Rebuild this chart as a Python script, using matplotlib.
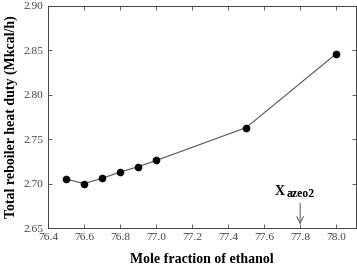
import matplotlib.pyplot as plt

# Datos
fraccion = [76.5, 76.6, 76.7, 76.8, 76.9, 77.0, 77.5, 78.0]
carga = [2.705, 2.700, 2.706, 2.713, 2.719, 2.726, 2.763, 2.846]
x_azeo = 77.8

plt.rcParams['font.family'] = ['Liberation Serif', 'DejaVu Serif']

fig, ax = plt.subplots(figsize=(3.57, 2.67), dpi=100)
fig.subplots_adjust(left=0.135, right=0.997, top=0.978, bottom=0.146)

ax.plot(fraccion, carga, color="#555555", linewidth=0.8,
        marker="o", markersize=4.5, markerfacecolor="black", markeredgecolor="black")

# Flecha y etiqueta del azeótropo
ax.annotate("", xy=(x_azeo, 2.651), xytext=(x_azeo, 2.681),
            arrowprops=dict(arrowstyle="->", color="#555555", lw=0.7,
                            mutation_scale=12))
ax.annotate("X", xy=(x_azeo, 2.684), xytext=(-18, 0), textcoords="offset points",
            ha="left", va="bottom", fontsize=10, fontweight="bold")
ax.annotate("azeo2", xy=(x_azeo, 2.684), xytext=(-9.8, -1.5), textcoords="offset points",
            ha="left", va="bottom", fontsize=8.5, fontweight="bold")

ax.set_xlim(76.4, 78.11)
ax.set_ylim(2.65, 2.90)
ax.set_xticks([76.4, 76.6, 76.8, 77.0, 77.2, 77.4, 77.6, 77.8, 78.0])
ax.set_yticks([2.65, 2.70, 2.75, 2.80, 2.85, 2.90])
ax.xaxis.set_major_formatter(plt.FormatStrFormatter("%.1f"))
ax.yaxis.set_major_formatter(plt.FormatStrFormatter("%.2f"))
ax.tick_params(direction="in", top=True, right=True, labelsize=8.2, length=3,
               width=0.6, colors="#444444")
for s in ax.spines.values():
    s.set_linewidth(0.7)
    s.set_color("#444444")

ax.set_xlabel("Mole fraction of ethanol", fontsize=10, fontweight="bold", labelpad=8)
ax.set_ylabel("Total reboiler heat duty (Mkcal/h)", fontsize=10, fontweight="bold",
              labelpad=4)

plt.savefig("out.png", dpi=100)
